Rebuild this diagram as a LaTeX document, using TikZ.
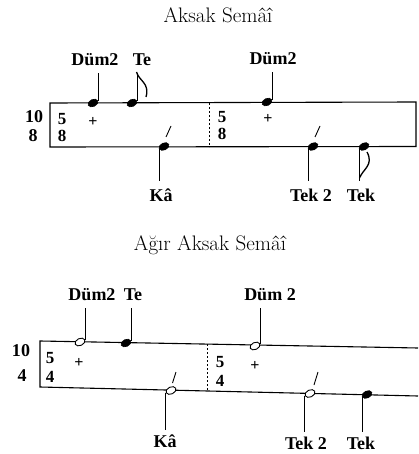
\documentclass[tikz,border=0pt]{standalone}
\usepackage{fontspec}
\newfontfamily\lbfont{Liberation Serif}
\usetikzlibrary{shapes.geometric,calc}

\begin{document}
\begin{tikzpicture}[x=1pt, y=-1pt,
    title/.style={font=\fontsize{21}{25}\selectfont, inner sep=0pt},
    lab/.style={font=\lbfont\bfseries\fontsize{18}{21}\selectfont, inner sep=1pt},
    meter/.style={font=\lbfont\bfseries\fontsize{18}{21}\selectfont, inner sep=0pt},
    sub/.style={font=\lbfont\bfseries\fontsize{17}{20}\selectfont, inner sep=0pt},
    plus/.style={font=\lbfont\bfseries\fontsize{16}{18}\selectfont, inner sep=0pt},
    head/.style={ellipse, draw, fill=black, line width=0.6pt, minimum width=10.5pt, minimum height=7pt, inner sep=0pt, rotate=25},
    hollow/.style={head, fill=white, line width=0.9pt},
    stem/.style={line width=0.8pt, shorten >=6pt},
    bar/.style={line width=1.1pt},
    beat/.style={dash pattern=on 2pt off 2pt, line width=0.7pt},
    flag/.style={line width=1.3pt},
    tick/.style={line width=0.9pt}
  ]
    \useasboundingbox (0,0) rectangle (418,454);

    % Aksak Semai
    \node[title] (ttlA) at (218,15) {Aksak Semâî};
    \draw[bar] (50,103) -- (416,102) -- (416,146.5) -- (50,147) -- cycle;
    \draw[beat] (209,103) -- (209,147);
    \node[meter] (numA) at (34,117) {10};
    \node[meter] (denA) at (33,136) {8};
    \node[sub] (numA1) at (62,119) {5};
    \node[sub] (denA1) at (62,136) {8};
    \node[sub] (numA2) at (222,117) {5};
    \node[sub] (denA2) at (222,134) {8};
    \node[plus] (plA1) at (93,122) {+};
    \node[plus] (plA2) at (268,119) {+};

    \node[head] (hdumA) at (93,103) {};
    \node[head] (hteA) at (132,103) {};
    \node[head] (hkaA) at (164,146.5) {};
    \node[head] (hdumtwoA) at (267,102) {};
    \node[head] (htektwoA) at (313,146.5) {};
    \node[head] (htekA) at (364,146.5) {};

    \node[lab] (dumA) at (95,60) {Düm2};
    \node[lab] (teA) at (142,60) {Te};
    \node[lab] (kaA) at (161,195) {Kâ};
    \node[lab] (dumtwoA) at (273,59) {Düm2};
    \node[lab] (tektwoA) at (311,195) {Tek 2};
    \node[lab] (tekA) at (361,195) {Tek};

    \draw[stem] (hdumA.east) -- (hdumA.east |- dumA.south);
    \draw[stem] (hteA.east) -- (hteA.east |- teA.south);
    \draw[stem] (hdumtwoA.east) -- (hdumtwoA.east |- dumtwoA.south);
    \draw[stem] (hkaA.west) -- (hkaA.west |- kaA.north);
    \draw[stem] (htektwoA.west) -- (htektwoA.west |- tektwoA.north);
    \draw[stem] (htekA.west) -- (htekA.west |- tekA.north);
    \draw[flag] (136.5,72) .. controls (139,81) and (150,83) .. (146,97);
    \draw[flag] (359.5,178) .. controls (363,169) and (374,165) .. (367,152);
    \draw[tick] (166,137) -- (171,126);
    \draw[tick] (315,137) -- (320,126);

    % Agir Aksak Semai
    \node[title] (ttlB) at (210,245) {Ağır Aksak Semâî};
    \draw[bar] (418,348) -- (40,341) -- (40,387) -- (418,396);
    \draw[beat] (207,344) -- (207,391);
    \node[meter] (numB) at (21,351) {10};
    \node[meter] (denB) at (22,376) {4};
    \node[sub] (numB1) at (50,358) {5};
    \node[sub] (denB1) at (50,377) {4};
    \node[sub] (numB2) at (220,362) {5};
    \node[sub] (denB2) at (220,381) {4};
    \node[plus] (plB1) at (79,363) {+};
    \node[plus] (plB2) at (255,366) {+};

    \node[hollow] (hdumB) at (80,342) {};
    \node[head] (hteB) at (126,343) {};
    \node[hollow] (hkaB) at (171,390.5) {};
    \node[hollow] (hdumtwoB) at (255,346) {};
    \node[hollow] (htektwoB) at (310,393.5) {};
    \node[head] (htekB) at (367,394.5) {};

    \node[lab] (dumB) at (92,295) {Düm2};
    \node[lab] (teB) at (133,295) {Te};
    \node[lab] (kaB) at (165,441) {Kâ};
    \node[lab] (dumtwoB) at (270,295) {Düm 2};
    \node[lab] (tektwoB) at (306,443) {Tek 2};
    \node[lab] (tekB) at (361,443) {Tek};

    \draw[stem] (hdumB.east) -- (hdumB.east |- dumB.south);
    \draw[stem] (hteB.east) -- (hteB.east |- teB.south);
    \draw[stem] (hdumtwoB.east) -- (hdumtwoB.east |- dumtwoB.south);
    \draw[stem, shorten >=3pt] (hkaB.west) -- (hkaB.west |- kaB.north);
    \draw[stem, shorten >=3pt] (htektwoB.west) -- (htektwoB.west |- tektwoB.north);
    \draw[stem, shorten >=3pt] (htekB.west) -- (htekB.west |- tekB.north);
    \draw[tick] (172.5,383) -- (176,372);
    \draw[tick] (314,385) -- (318,372);
\end{tikzpicture}
\end{document}
